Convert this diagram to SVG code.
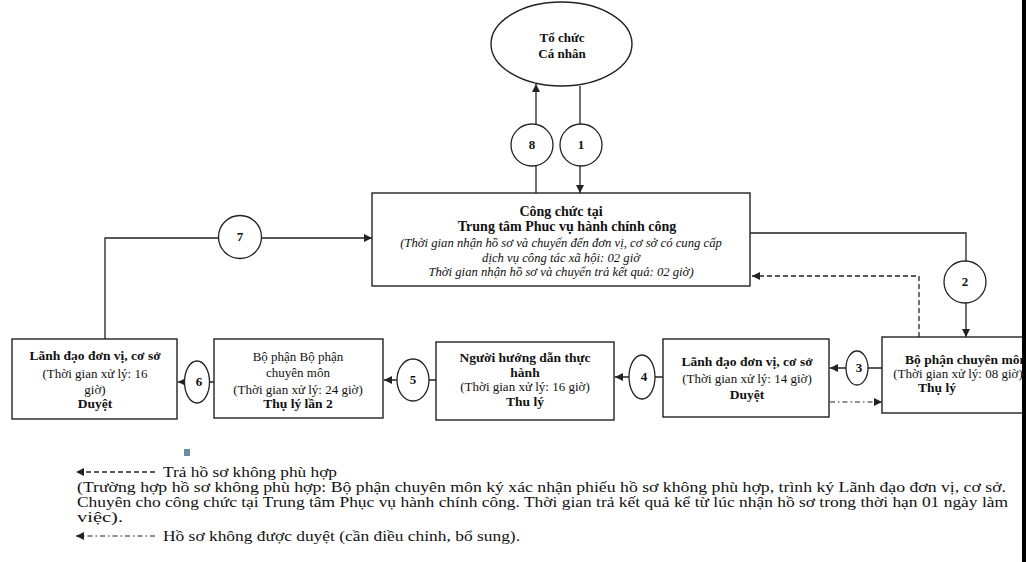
<svg xmlns="http://www.w3.org/2000/svg" width="1026" height="562" viewBox="0 0 1026 562">
<style>
.box{fill:#fff;stroke:#222;stroke-width:1.4}
.num{fill:#fff;stroke:#222;stroke-width:1.3}
.ln{fill:none;stroke:#222;stroke-width:1.3}
.dash{fill:none;stroke:#222;stroke-width:1.3;stroke-dasharray:5,3}
.dashdot{fill:none;stroke:#222;stroke-width:1.1;stroke-dasharray:5,3,1.5,3}
text{font-family:"Liberation Serif","Times New Roman",serif;fill:#111;text-anchor:middle}
.b{font-weight:bold;font-size:13.5px}
.r{font-size:13px}
.i{font-style:italic;font-size:12.7px}
.n{font-weight:bold;font-size:13px}
.leg{font-size:14.5px;text-anchor:start}
</style>
<defs>
<marker id="ah" viewBox="0 0 10 10" refX="10" refY="5" markerWidth="8" markerHeight="8" markerUnits="userSpaceOnUse" orient="auto">
<path d="M0,0 L10,5 L0,10 z" fill="#222"/>
</marker>
</defs>
<rect width="1026" height="562" fill="#fff"/>

<g id="connectors">
<line class="ln" x1="536" y1="193" x2="536" y2="84" marker-end="url(#ah)"/>
<line class="ln" x1="580" y1="86" x2="580" y2="193" marker-end="url(#ah)"/>
<polyline class="ln" points="750,233 966,233 966,337" marker-end="url(#ah)"/>
<polyline class="dash" points="919,337 919,276 752,276" marker-end="url(#ah)"/>
<line class="ln" x1="882" y1="368" x2="830" y2="368" marker-end="url(#ah)"/>
<line class="dashdot" x1="830" y1="402" x2="882" y2="402" marker-end="url(#ah)"/>
<line class="ln" x1="663" y1="377" x2="615" y2="377" marker-end="url(#ah)"/>
<line class="ln" x1="436" y1="380" x2="384" y2="380" marker-end="url(#ah)"/>
<line class="ln" x1="214" y1="382" x2="178" y2="382" marker-end="url(#ah)"/>
<polyline class="ln" points="105,339 105,238 372,238" marker-end="url(#ah)"/>
<circle class="num" cx="532" cy="145" r="21"/><text class="n" x="532" y="149">8</text>
<circle class="num" cx="581" cy="145" r="21"/><text class="n" x="581" y="149">1</text>
<circle class="num" cx="240" cy="237" r="21.5"/><text class="n" x="240" y="241">7</text>
<circle class="num" cx="965" cy="282" r="21"/><text class="n" x="965" y="286">2</text>
<ellipse class="num" cx="857" cy="368" rx="11" ry="17"/><text class="n" x="859" y="372">3</text>
<ellipse class="num" cx="642" cy="377" rx="13" ry="22"/><text class="n" x="644" y="381">4</text>
<ellipse class="num" cx="413" cy="380" rx="16" ry="21"/><text class="n" x="413" y="384">5</text>
<ellipse class="num" cx="197" cy="382" rx="12.5" ry="21"/><text class="n" x="199" y="386">6</text>
</g>

<g id="node-to-chuc">
<ellipse class="box" cx="561.5" cy="44" rx="70.5" ry="42"/>
<text class="b" x="562" y="42" style="font-size:13px">Tổ chức</text>
<text class="b" x="562" y="58" style="font-size:13px">Cá nhân</text>
</g>

<g id="node-trung-tam">
<rect class="box" x="372" y="193" width="378" height="93"/>
<text class="b" x="561" y="216" style="font-size:14px">Công chức tại</text>
<text class="b" x="567" y="231" style="font-size:14px">Trung tâm Phuc vụ hành chính công</text>
<text class="i" x="561" y="247">(Thời gian nhận hồ sơ và chuyển đến đơn vị, cơ sở có cung cấp</text>
<text class="i" x="561" y="262">dịch vụ công tác xã hội: 02 giờ</text>
<text class="i" x="561" y="276">Thời gian nhận hồ sơ và chuyển trả kết quả: 02 giờ)</text>
</g>

<g id="node-bo-phan-chuyen-mon">
<rect class="box" x="882" y="337" width="160" height="76"/>
<text class="b" x="966" y="364">Bộ phận chuyên môn</text>
<text class="r" x="958" y="378">(Thời gian xử lý: 08 giờ)</text>
<text class="b" x="937" y="392">Thụ lý</text>
</g>

<g id="node-lanh-dao-14">
<rect class="box" x="663" y="339" width="166" height="78"/>
<text class="b" x="747" y="366">Lãnh đạo đơn vị, cơ sở</text>
<text class="r" x="747" y="383">(Thời gian xử lý: 14 giờ)</text>
<text class="b" x="747" y="399">Duyệt</text>
</g>

<g id="node-nguoi-huong-dan">
<rect class="box" x="436" y="342" width="178" height="78"/>
<text class="b" x="525" y="362">Người hướng dẫn thực</text>
<text class="b" x="525" y="377">hành</text>
<text class="r" x="525" y="391">(Thời gian xử lý: 16 giờ)</text>
<text class="b" x="525" y="406">Thu lý</text>
</g>

<g id="node-bo-phan-lan-2">
<rect class="box" x="214" y="339" width="169" height="79"/>
<text class="r" x="298" y="361">Bộ phận Bộ phận</text>
<text class="r" x="298" y="377">chuyên môn</text>
<text class="r" x="298" y="394">(Thời gian xử lý: 24 giờ)</text>
<text class="b" x="298" y="408">Thụ lý lần 2</text>
</g>

<g id="node-lanh-dao-16">
<rect class="box" x="12" y="339" width="165" height="80"/>
<text class="b" x="95" y="360">Lãnh đạo đơn vị, cơ sở</text>
<text class="r" x="95" y="378">(Thời gian xử lý: 16</text>
<text class="r" x="95" y="394">giờ)</text>
<text class="b" x="95" y="408">Duyệt</text>
</g>

<g id="legend">
<rect x="184" y="449" width="6" height="7" fill="#6f89a8"/>
<line class="dash" x1="155" y1="472" x2="76" y2="472" stroke-dasharray="4,2.5" marker-end="url(#ah)"/>
<text class="leg" x="163" y="477" textLength="174" lengthAdjust="spacingAndGlyphs">Trả hồ sơ không phù hợp</text>
<text class="leg" x="77" y="492" textLength="929" lengthAdjust="spacingAndGlyphs">(Trường hợp hồ sơ không phù hợp: Bộ phận chuyên môn ký xác nhận phiếu hồ sơ không phù hợp, trình ký Lãnh đạo đơn vị, cơ sở.</text>
<text class="leg" x="77" y="507" textLength="931" lengthAdjust="spacingAndGlyphs">Chuyên cho công chức tại Trung tâm Phục vụ hành chính công. Thời gian trả kết quả kể từ lúc nhận hồ sơ trong thời hạn 01 ngày làm</text>
<text class="leg" x="77" y="522" textLength="46" lengthAdjust="spacingAndGlyphs">việc).</text>
<line class="dashdot" x1="155" y1="536" x2="76" y2="536" marker-end="url(#ah)"/>
<text class="leg" x="163" y="541" textLength="357" lengthAdjust="spacingAndGlyphs">Hồ sơ không được duyệt (cần điều chỉnh, bổ sung).</text>
</g>

<rect x="1022" y="0" width="4" height="562" fill="#000"/>
</svg>
